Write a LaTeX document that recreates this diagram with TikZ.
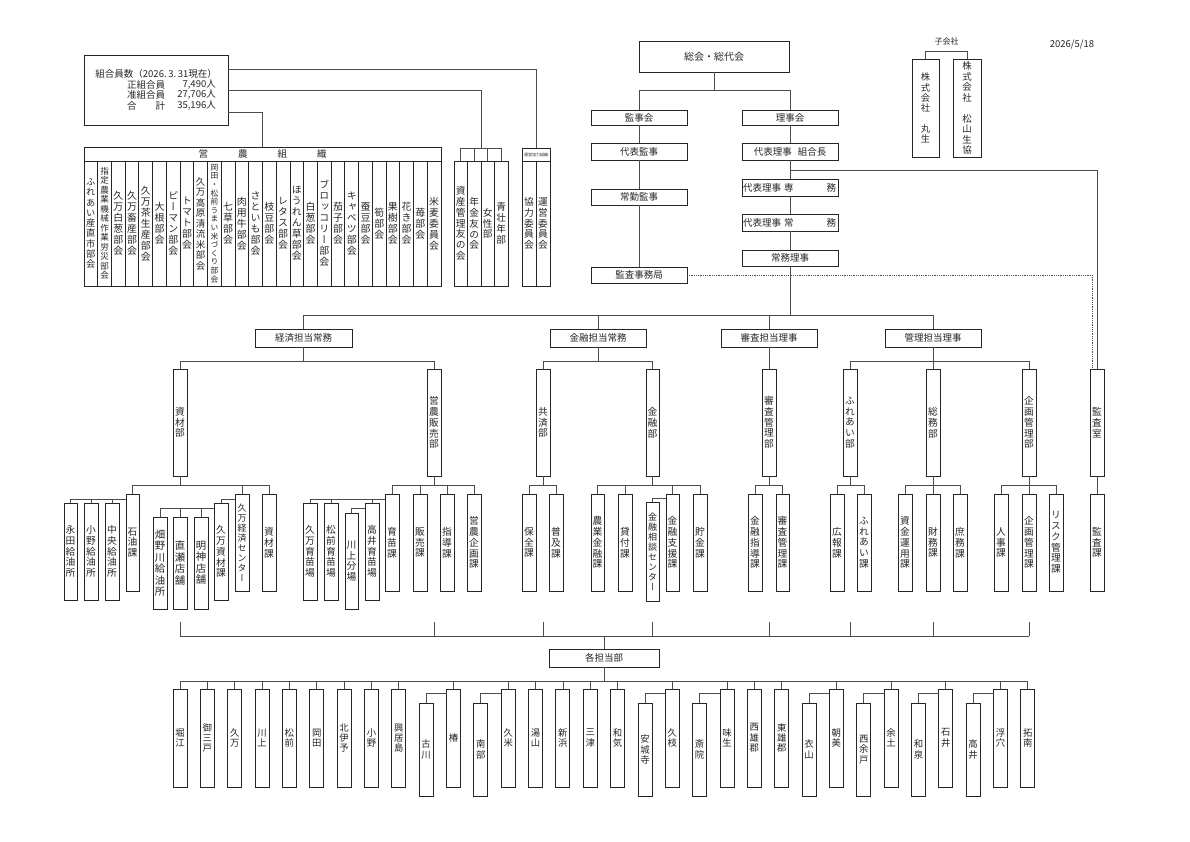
\documentclass[tikz,border=0pt]{standalone}
\usepackage{fontspec}
\setmainfont{Noto Sans CJK JP}
\newfontfamily\vjp[RawFeature=+vert]{Noto Sans CJK JP}
\newcommand\vt[2][10.8]{\vbox{\vjp\fontsize{\the\dimexpr #1pt*90/100\relax}{#1pt}\selectfont\baselineskip=#1pt\relax\lineskiplimit=-100pt\lineskip=0pt\expandafter\vtloop#2\relax}}
\def\vtloop#1{\ifx\relax#1\else\hbox to 11pt{\hss#1\hss}\expandafter\vtloop\fi}
\tikzset{
  bx/.style={draw=black!85,line width=0.9pt,inner sep=0pt,outer sep=0pt,font=\fontsize{9.5}{11}\selectfont,text=black!85},
  ln/.style={draw=black!70,line width=0.8pt},
  txt/.style={inner sep=0pt,font=\fontsize{9.5}{11}\selectfont,text=black!85}
}
\newcommand\VB[7][10.8]{\node[bx,minimum width={((#5)-(#3))*1pt},minimum height={((#6)-(#4))*1pt}] (#2) at ({((#3)+(#5))/2},{((#4)+(#6))/2}) {\vt[#1]{#7}};}
\newcommand\HB[6]{\node[bx,minimum width={((#4)-(#2))*1pt},minimum height={((#5)-(#3))*1pt}] (#1) at ({((#2)+(#4))/2},{((#3)+(#5))/2}) {#6};}
\begin{document}
\begin{tikzpicture}[x=1pt,y=-1pt]
\useasboundingbox[fill=white] (0,0) rectangle (1190,841);

% ---------- membership box
\HB{member}{84}{55}{228}{125}{}
\node[txt,anchor=east] (m1) at (217,74) {組合員数（2026.\,3.\,31現在）};
\node[txt,anchor=west] (m2a) at (127,84.5) {正組合員};
\node[txt,anchor=east] (m2b) at (216,84.5) {7,490人};
\node[txt,anchor=west] (m3a) at (127,95) {准組合員};
\node[txt,anchor=east] (m3b) at (216,95) {27,706人};
\node[txt,anchor=west] (m4a) at (127,105.5) {合\hspace{19pt}計};
\node[txt,anchor=east] (m4b) at (216,105.5) {35,196人};

% ---------- 営農組織
\HB{eino}{84}{147}{441}{161}{営\hspace{30pt}農\hspace{30pt}組\hspace{30pt}織}
\foreach \p/\t [count=\i from 0] in {10.3/ふれあい産直市部会,9.5/指定農業機械作業労災部会,11/久万白葱部会,11/久万畜産部会,11/久万茶生産部会,11/大根部会,11/ピーマン部会,11/トマト部会,10.5/久万高原清流米部会,8.6/岡田・松前うまい米づくり部会,11/七草部会,11/肉用牛部会,11/さといも部会,11/枝豆部会,11/レタス部会,11/ほうれん草部会,11/白葱部会,11/ブロッコリー部会,11/茄子部会,11/キャベツ部会,11/蚕豆部会,11/筍部会,11/果樹部会,11/花き部会,11/苺部会,11/米麦委員会}
  {\VB[\p]{e\i}{84+13.73*\i}{161}{84+13.73*(\i+1)}{286}{\t}}

% ---------- 4-group
\VB{g1}{454}{161}{467.5}{286}{資産管理友の会}
\VB{g2}{467.5}{161}{481}{286}{年金友の会}
\VB{g3}{481}{161}{494.5}{286}{女性部}
\VB{g4}{494.5}{161}{508}{286}{青壮年部}
\draw[ln] (g1.north) -- ++(0,-13) -| (g4.north);
\draw[ln] (g2.north) -- ++(0,-13);
\draw[ln] (g3.north) -- ++(0,-13);

% ---------- 運営協力組織
\HB{uneih}{522}{148}{550}{161}{\fontsize{4}{4}\selectfont 運営協力組織}
\VB{u1}{522}{161}{536}{286}{協力委員会}
\VB{u2}{536}{161}{550}{286}{運営委員会}

\draw[ln] ([yshift=21pt]member.east) -| (uneih.north);
\draw[ln] (member.east) -| ([yshift=13pt]g3.north west);
\draw[ln] ([yshift=-22pt]member.east) -| (eino.north);

% ---------- top hierarchy
\HB{sokai}{639}{41}{789}{72}{\fontsize{10}{11}\selectfont 総会・総代会}
\HB{kanjikai}{591}{110}{687}{125}{監事会}
\HB{rijikai}{742}{110}{838}{125}{理事会}
\HB{daikan}{591}{143}{687}{160}{代表監事}
\HB{kumiai}{742}{143}{838}{160}{代表理事\hspace{6pt}組合長}
\HB{jokin}{591}{189}{687}{205}{常勤監事}
\HB{senmu}{742}{179}{838}{196}{}
\HB{jomu}{742}{214}{838}{231}{}
\node[txt,anchor=west] (senmut) at ([xshift=1pt]senmu.west) {代表理事\hspace{3pt}専\hspace{33pt}務};
\node[txt,anchor=west] (jomut) at ([xshift=1pt]jomu.west) {代表理事\hspace{3pt}常\hspace{33pt}務};
\HB{jomuriji}{742}{250}{838}{266}{常務理事}
\HB{kjimu}{591}{267}{687}{283}{監査事務局}

\draw[ln] (sokai.south) -- ++(0,18) -| (kanjikai.north);
\draw[ln] (sokai.south) -- ++(0,18) -| (rijikai.north);
\draw[ln] (kanjikai.south) -- (daikan.north);
\draw[ln] (daikan.south) -- (jokin.north);
\draw[ln] (jokin.south) -- (kjimu.north);
\draw[ln] (rijikai.south) -- (kumiai.north);
\draw[ln] (kumiai.south) -- (senmu.north);
\draw[ln] (senmu.south) -- (jomu.north);
\draw[ln] (jomu.south) -- (jomuriji.north);

% ---------- subsidiaries & date
\node[txt,font=\fontsize{8}{9}\selectfont] (kogaisha) at (946.5,41) {子会社};
\VB[10.3]{maru}{912}{59}{939}{157}{株式会社　丸生}
\VB[10.5]{matsu}{953}{59}{981}{157}{株式会社　松山生協}
\draw[ln] (maru.north) -- ++(0,-8) -| (matsu.north);
\node[txt] (date) at (1072,45) {2026/5/18};

% ---------- 担当
\HB{keizai}{255}{329}{352}{347}{経済担当常務}
\HB{kinyu}{550}{329}{646}{347}{金融担当常務}
\HB{shinsa}{721}{329}{817}{347}{審査担当理事}
\HB{kanri}{885}{329}{981}{347}{管理担当理事}
\foreach \n in {keizai,kinyu,shinsa,kanri}
  \draw[ln] (jomuriji.south) -- ++(0,49) -| (\n.north);

% ---------- departments
\VB{shizai}{173}{369}{187}{476}{資材部}
\VB{hanbai}{427}{369}{441}{476}{営農販売部}
\VB{kyosai}{536}{369}{550}{476}{共済部}
\VB{kinyubu}{646}{369}{659}{476}{金融部}
\VB{sknr}{762}{369}{776}{476}{審査管理部}
\VB{fureaibu}{843}{369}{857}{476}{ふれあい部}
\VB{somubu}{926}{369}{940}{476}{総務部}
\VB{kikakubu}{1022}{369}{1036}{476}{企画管理部}
\VB{kansashitsu}{1090}{369}{1104}{476}{監査室}

\foreach \n in {shizai,hanbai} \draw[ln] (keizai.south) -- ++(0,14) -| (\n.north);
\foreach \n in {kyosai,kinyubu} \draw[ln] (kinyu.south) -- ++(0,14) -| (\n.north);
\draw[ln] (shinsa.south) -- (sknr.north);
\foreach \n in {fureaibu,somubu,kikakubu} \draw[ln] (kanri.south) -- ++(0,14) -| (\n.north);
\draw[ln] ([yshift=-10pt]kumiai.south) -| (kansashitsu.north);
\draw[ln,densely dotted] (kjimu.east) -| ([xshift=-5pt]kansashitsu.north);

% ---------- sections: 資材部
\VB{sekiyu}{126}{494}{139}{591}{石油課}
\VB[10]{kumakeizai}{235}{494}{249}{591}{久万経済センター}
\VB{shizaika}{262}{494}{276}{591}{資材課}
\VB{nagata}{64}{503}{77}{600}{永田給油所}
\VB{onokyu}{84}{503}{98}{600}{小野給油所}
\VB{chuo}{105}{503}{119}{600}{中央給油所}
\VB{kumashizai}{214}{503}{228}{600}{久万資材課}
\VB[11.5]{hatano}{153}{517}{167}{609}{畑野川給油所}
\VB[11.5]{naose}{173}{517}{187}{609}{直瀬店舗}
\VB[11.5]{myojin}{194}{517}{208}{609}{明神店舗}
\foreach \n in {sekiyu,kumakeizai,shizaika} \draw[ln] (shizai.south) -- ++(0,9) -| (\n.north);
\foreach \n in {nagata,onokyu,chuo} \draw[ln] ([yshift=-5pt]sekiyu.north west) -| (\n.north);
\draw[ln] ([yshift=-5pt]kumakeizai.north west) -| (kumashizai.north);
\foreach \n in {hatano,naose,myojin} \draw[ln] ([yshift=-5pt]kumashizai.north west) -| (\n.north);

% ---------- sections: 営農販売部
\VB{ikubyo}{385}{494}{399}{591}{育苗課}
\VB{hanbaika}{413}{494}{427}{591}{販売課}
\VB{shidoka}{440}{494}{454}{591}{指導課}
\VB{einokikaku}{467}{494}{481}{591}{営農企画課}
\VB{kumaik}{303}{503}{317}{600}{久万育苗場}
\VB{matsuik}{324}{503}{338}{600}{松前育苗場}
\VB{takaiik}{365}{503}{379}{600}{高井育苗場}
\VB{kawakami}{345}{513}{358}{609}{川上分場}
\foreach \n in {ikubyo,hanbaika,shidoka,einokikaku} \draw[ln] (hanbai.south) -- ++(0,9) -| (\n.north);
\foreach \n in {kumaik,matsuik,takaiik} \draw[ln] ([yshift=-5pt]ikubyo.north west) -| (\n.north);
\draw[ln] ([yshift=-5pt]takaiik.north west) -| (kawakami.north);

% ---------- sections: 共済部 / 金融部
\VB{hozen}{522}{494}{536}{591}{保全課}
\VB{fukyu}{549}{494}{563}{591}{普及課}
\foreach \n in {hozen,fukyu} \draw[ln] (kyosai.south) -- ++(0,9) -| (\n.north);
\VB{nogyo}{591}{494}{604}{591}{農業金融課}
\VB{kashi}{618}{494}{632}{591}{貸付課}
\VB{shien}{666}{494}{679}{591}{金融支援課}
\VB{chokin}{693}{494}{707}{591}{貯金課}
\VB[10]{sodan}{646}{502}{659}{601}{金融相談センター}
\foreach \n in {nogyo,kashi,shien,chokin} \draw[ln] (kinyubu.south) -- ++(0,9) -| (\n.north);
\draw[ln] ([yshift=-4pt]shien.north west) -| (sodan.north);

% ---------- sections: 審査管理部
\VB{kshido}{748}{494}{762}{591}{金融指導課}
\VB{shinsaka}{776}{494}{789}{591}{審査管理課}
\foreach \n in {kshido,shinsaka} \draw[ln] (sknr.south) -- ++(0,9) -| (\n.north);

% ---------- sections: 管理
\VB{koho}{830}{494}{844}{591}{広報課}
\VB{fureaika}{857}{494}{871}{591}{ふれあい課}
\foreach \n in {koho,fureaika} \draw[ln] (fureaibu.south) -- ++(0,9) -| (\n.north);
\VB{shikin}{898}{494}{912}{591}{資金運用課}
\VB{zaimu}{926}{494}{940}{591}{財務課}
\VB{shomu}{953}{494}{967}{591}{庶務課}
\foreach \n in {shikin,zaimu,shomu} \draw[ln] (somubu.south) -- ++(0,9) -| (\n.north);
\VB{jinji}{994}{494}{1008}{591}{人事課}
\VB{kikakuka}{1022}{494}{1036}{591}{企画管理課}
\VB{risk}{1049}{494}{1063}{591}{リスク管理課}
\foreach \n in {jinji,kikakuka,risk} \draw[ln] (kikakubu.south) -- ++(0,9) -| (\n.north);
\VB{kansaka}{1090}{494}{1104}{591}{監査課}
\draw[ln] (kansashitsu.south) -- (kansaka.north);

% ---------- 各担当部
\HB{kaku}{549}{649}{659}{667}{各担当部}
\draw[ln] (kaku.north) -- ++(0,-13) coordinate (ub);
\draw[ln] (shizai |- ub) -- (kikakubu |- ub);
\foreach \d in {shizai,hanbai,kyosai,kinyubu,sknr,fureaibu,somubu,kikakubu}
  \draw[ln] (\d |- ub) -- ++(0,-14);

\foreach \t/\l [count=\i from 0] in {堀江/0,御三戸/0,久万/0,川上/0,松前/0,岡田/0,北伊予/0,小野/0,興居島/0,古川/1,椿/0,南部/1,久米/0,湯山/0,新浜/0,三津/0,和気/0,安城寺/1,久枝/0,斎院/1,味生/0,西雄郡/0,東雄郡/0,衣山/1,朝美/0,西余戸/1,余土/0,和泉/1,石井/0,高井/1,浮穴/0,拓南/0}
{
  \pgfmathsetmacro\xa{173+27.35*\i}
  \ifnum\l=1 \VB[10.4]{b\i}{\xa}{703}{\xa+14}{796}{\t}\else\VB[10.4]{b\i}{\xa}{689}{\xa+14}{787}{\t}\fi
}
\draw[ln] (kaku.south) -- ++(0,14) coordinate (bb);
\foreach \i in {0,1,2,3,4,5,6,7,8,10,12,13,14,15,16,18,20,21,22,24,26,28,30,31}
  \draw[ln] (bb) -| (b\i.north);
\foreach \i/\j in {9/10,11/12,17/18,19/20,23/24,25/26,27/28,29/30}
  \draw[ln] (b\i.north) |- ([yshift=-4pt]b\j.north west);
\end{tikzpicture}
\end{document}
